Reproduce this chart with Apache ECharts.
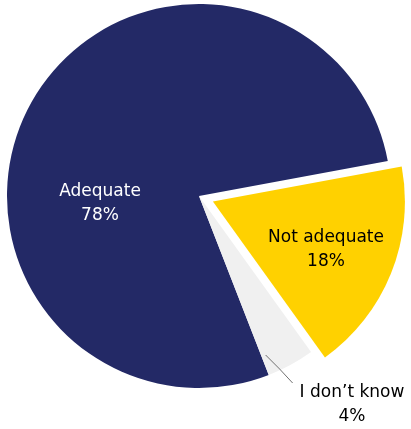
<!DOCTYPE html>
<html>
<head>
<meta charset="utf-8">
<script src="https://cdn.jsdelivr.net/npm/echarts@6/dist/echarts.min.js"></script>
<style>
  html, body { margin: 0; padding: 0; background: #ffffff; }
  #chart { width: 411px; height: 429px; }
</style>
</head>
<body>
<div id="chart"></div>
<script>
// Survey answers: is the provision adequate?
const categories = ['Adequate', 'Not adequate', 'I don\u2019t know'];
const shares = [78, 18, 4];
const sliceColors = ['#232966', '#ffd100', '#f0f0f0'];
const labelColors = ['#ffffff', '#000000', '#000000'];

// Where each label block sits (centre of the two-line text)
const labelSpots = [[100, 204], [326, 250], [352, 405]];

const START_ANGLE = -68.7;
const LIFT = 15;
const CENTER = [199, 196];
const RADIUS = 192;
const LEADER_INDEX = 2; // the thin slice whose label sits outside

// direction in which the lifted slice moves (its mid angle)
function liftVector(index) {
  const total = shares.reduce((a, b) => a + b, 0);
  let before = 0;
  for (let k = 0; k < index; k++) before += shares[k];
  const mid = (START_ANGLE - (before + shares[index] / 2) / total * 360) * Math.PI / 180;
  return [LIFT * Math.cos(mid), -LIFT * Math.sin(mid)];
}

const labelText = {
  show: true,
  fontFamily: 'DejaVu Sans',
  fontSize: 17,
  lineHeight: 24,
  align: 'center',
  overflow: 'none',
  formatter: p => p.name + '\n' + p.value + '%'
};

const chart = echarts.init(document.getElementById('chart'), null, { renderer: 'canvas' });

// visible slices, with the in-slice labels
const sliceData = categories.map((name, i) => ({
  name: name,
  value: shares[i],
  selected: i === 1,
  itemStyle: { color: sliceColors[i] },
  label: { show: i !== LEADER_INDEX, color: labelColors[i], position: 'inside' },
  labelLine: { show: false }
}));

// same slices again, see-through, carrying only the outside label and its
// leader so the leader is painted over the filled slices
const leaderData = categories.map((name, i) => ({
  name: name,
  value: shares[i],
  itemStyle: { color: 'rgba(0,0,0,0)' },
  label: { show: i === LEADER_INDEX, color: labelColors[i], position: 'outside' },
  labelLine: { show: i === LEADER_INDEX }
}));

chart.setOption({
  animation: false,
  series: [{
    type: 'pie',
    z: 2,
    center: CENTER,
    radius: RADIUS,
    startAngle: START_ANGLE,
    clockwise: true,
    selectedMode: 'single',
    selectedOffset: LIFT,
    emphasis: { disabled: true },
    label: labelText,
    labelLayout: function (params) {
      const i = params.dataIndex;
      const s = labelSpots[i];
      const r = params.labelRect;
      if (sliceData[i].selected) {
        // the lifted slice adds its own shift on top of the layout
        const v = liftVector(i);
        const cx = r.x + r.width / 2, cy = r.y + r.height / 2;
        return { dx: s[0] - cx - v[0], dy: s[1] - cy - v[1] };
      }
      return { x: s[0], y: s[1], align: 'center', verticalAlign: 'middle' };
    },
    data: sliceData
  }, {
    type: 'pie',
    z: 3,
    silent: true,
    center: CENTER,
    radius: RADIUS,
    startAngle: START_ANGLE,
    clockwise: true,
    selectedMode: false,
    emphasis: { disabled: true },
    label: labelText,
    labelLine: {
      lineStyle: { color: '#707070', width: 1 },
      length: 6,
      length2: 0
    },
    labelLayout: function (params) {
      const s = labelSpots[params.dataIndex];
      const r = params.labelRect;
      // short diagonal leader running up-left from the top-left of the text
      const left = s[0] - r.width / 2, top = s[1] - r.height / 2;
      const end = [left - 7, top + 2];
      return {
        x: s[0], y: s[1], align: 'center', verticalAlign: 'middle',
        labelLinePoints: [[end[0] - 27, end[1] - 28], [end[0] - 13, end[1] - 14], end]
      };
    },
    data: leaderData
  }]
});
</script>
</body>
</html>
